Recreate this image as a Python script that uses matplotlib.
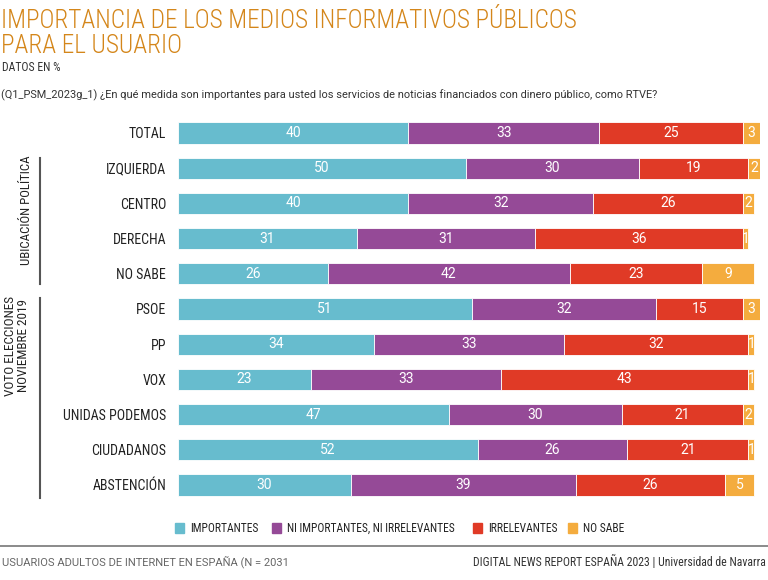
import matplotlib
matplotlib.use("Agg")
import matplotlib.pyplot as plt
from matplotlib.patches import Rectangle

COND = ["Roboto Condensed", "DejaVu Sans"]
REG = ["Roboto", "DejaVu Sans"]
plt.rcParams["font.family"] = COND

W, H = 768, 580

categories = ["TOTAL", "IZQUIERDA", "CENTRO", "DERECHA", "NO SABE", "PSOE", "PP",
              "VOX", "UNIDAS PODEMOS", "CIUDADANOS", "ABSTENCIÓN"]
importantes = [40, 50, 40, 31, 26, 51, 34, 23, 47, 52, 30]
ni_ni = [33, 30, 32, 31, 42, 32, 33, 33, 30, 26, 39]
irrelevantes = [25, 19, 26, 36, 23, 15, 32, 43, 21, 21, 26]
no_sabe = [3, 2, 2, 1, 9, 3, 1, 1, 2, 1, 5]

series_names = ["IMPORTANTES", "NI IMPORTANTES, NI IRRELEVANTES", "IRRELEVANTES", "NO SABE"]
colors = ["#67BCCE", "#954A97", "#E03A26", "#F4AC3E"]

fig = plt.figure(figsize=(W / 100, H / 100), dpi=100)


def fx(px):
    return px / W


def fy(py):
    return 1 - py / H


# zona de barras en píxeles: filas centradas en 133 + 35.2*i
ax_left, ax_right = 178, 760
ax_top, ax_bot = 115.4, 502.6
ax = fig.add_axes([fx(ax_left), fy(ax_bot), fx(ax_right - ax_left), (ax_bot - ax_top) / H])

y = list(range(len(categories)))
left = [0] * len(categories)
for vals, col in zip([importantes, ni_ni, irrelevantes, no_sabe], colors):
    bars = ax.barh(y, vals, left=left, height=0.6, color=col, edgecolor="white", linewidth=0.6)
    for b, v in zip(bars, vals):
        ax.text(b.get_x() + b.get_width() / 2, b.get_y() + b.get_height() / 2, str(v),
                ha="center", va="center", color="white", fontsize=10, family=REG)
    left = [l + v for l, v in zip(left, vals)]

ax.set_xlim(0, 101)
ax.set_ylim(len(categories) - 0.5, -0.5)
ax.set_yticks(y)
ax.set_yticklabels(categories, fontsize=10, color="#222222")
ax.tick_params(axis="y", length=0, pad=8.5)
ax.set_xticks([])
for s in ax.spines.values():
    s.set_visible(False)

# títulos
title_col = "#D4861A"
fig.text(fx(1), fy(28), "IMPORTANCIA DE LOS MEDIOS INFORMATIVOS PÚBLICOS",
         ha="left", va="baseline", fontsize=18.2, color=title_col, fontweight="light")
fig.text(fx(1), fy(53), "PARA EL USUARIO",
         ha="left", va="baseline", fontsize=18.2, color=title_col, fontweight="light")
fig.text(fx(2), fy(71), "DATOS EN %", ha="left", va="baseline", fontsize=8.5, color="#333333")
fig.text(fx(1), fy(98), "(Q1_PSM_2023g_1) ¿En qué medida son importantes para usted los servicios de "
         "noticias financiados con dinero público, como RTVE?",
         ha="left", va="baseline", fontsize=7.9, color="#333333", family=REG)

# agrupaciones
fig.add_artist(plt.Line2D([fx(40), fx(40)], [fy(158), fy(284)], color="#555555", lw=1.5))
fig.text(fx(27), fy(210), "UBICACIÓN POLÍTICA", rotation=90, ha="center", va="center",
         fontsize=9.3, color="#222222")
fig.add_artist(plt.Line2D([fx(40), fx(40)], [fy(298), fy(498)], color="#555555", lw=1.5))
fig.text(fx(17), fy(346), "VOTO ELECCIONES\nNOVIEMBRE 2019", rotation=90, ha="center",
         va="center", fontsize=9.5, color="#222222", linespacing=1.0)

# leyenda
leg_x = [175, 272, 473, 568]
for name, col, lx in zip(series_names, colors, leg_x):
    fig.add_artist(Rectangle((fx(lx), fy(533)), fx(9), 10 / H, color=col))
    fig.text(fx(lx + 15), fy(528), name, ha="left", va="center", fontsize=8.3, color="#222222")

# pie
fig.add_artist(plt.Line2D([0, 1], [fy(546), fy(546)], color="#777777", lw=1.2))
fig.text(fx(2), fy(562), "USUARIOS ADULTOS DE INTERNET EN ESPAÑA (N = 2031", ha="left",
         va="center", fontsize=8, color="#666666", family=REG)
fig.text(fx(766), fy(562), "DIGITAL NEWS REPORT ESPAÑA 2023 | Universidad de Navarra",
         ha="right", va="center", fontsize=8.5, color="#333333")

fig.savefig("out.png", dpi=100)
